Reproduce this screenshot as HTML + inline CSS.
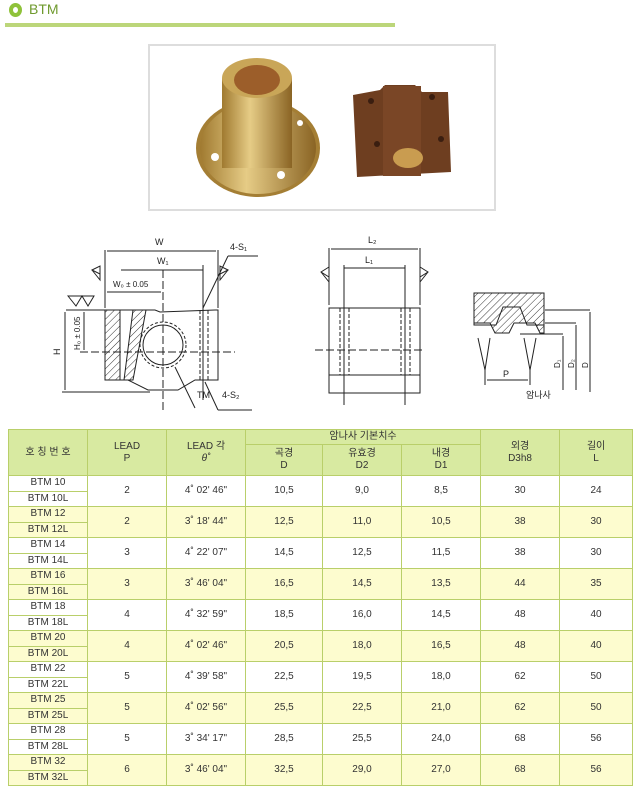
<!DOCTYPE html>
<html><head><meta charset="utf-8"><style>
body{margin:0;width:640px;height:791px;background:#fff;position:relative;overflow:hidden;font-family:"Liberation Sans","Noto Sans CJK KR",sans-serif}
.abs{position:absolute}
table{position:absolute;left:8px;top:429px;border-collapse:collapse;table-layout:fixed;width:624px}
td{border:1px solid #b9cf6a;text-align:center;font-size:10px;color:#333;padding:0;line-height:12px}
.h{background:#d8eaa1;}
.y{background:#fdfccf}
.w{background:#fff}
</style></head><body>
<div class="abs" style="left:9px;top:3px;width:13px;height:14px;border-radius:50%;border:4px solid #8fc23a;box-sizing:border-box"></div>
<div class="abs" style="left:29px;top:1px;font-size:14px;color:#6f9a2e">BTM</div>
<div class="abs" style="left:5px;top:23px;width:390px;height:4px;background:#bcd67a"></div>
<div class="abs" style="left:148px;top:44px;width:348px;height:167px;border:2px solid #ddd;box-sizing:border-box"></div>
<svg class="abs" style="left:0;top:0" width="640" height="420">
<defs><linearGradient id="br" x1="0" x2="1"><stop offset="0" stop-color="#a07a30"/><stop offset=".4" stop-color="#e6cc86"/><stop offset="1" stop-color="#8a6424"/></linearGradient>
<pattern id="ht" width="5" height="5" patternUnits="userSpaceOnUse" patternTransform="rotate(45)"><line x1="0" y1="0" x2="0" y2="5" stroke="#333" stroke-width="1"/></pattern></defs>
<ellipse cx="258" cy="148" rx="62" ry="49" fill="#a47e34"/>
<ellipse cx="258" cy="148" rx="58" ry="46" fill="url(#br)"/>
<rect x="222" y="78" width="70" height="90" fill="url(#br)"/>
<ellipse cx="257" cy="78" rx="35" ry="20" fill="#c9a658"/>
<ellipse cx="257" cy="80" rx="23" ry="15" fill="#9c5e2a"/>
<circle cx="215" cy="157" r="4" fill="#fff"/><circle cx="281" cy="175" r="4" fill="#fff"/><circle cx="300" cy="123" r="3" fill="#fff"/>
<polygon points="353,95 380,90 385,85 415,85 422,92 448,92 451,172 357,177" fill="#6e3e20"/>
<rect x="383" y="86" width="38" height="90" fill="#7a4626"/>
<circle cx="371" cy="101" r="3" fill="#3a1e10"/><circle cx="432" cy="97" r="3" fill="#3a1e10"/><circle cx="377" cy="144" r="3" fill="#3a1e10"/><circle cx="441" cy="139" r="3" fill="#3a1e10"/>
<ellipse cx="408" cy="158" rx="15" ry="10" fill="#c99c50"/>
<g stroke="#222" stroke-width="1" fill="none">
<polyline points="105,310 155,310 160,312 215,310 218,310 218,380 195,380 178,390 148,390 128,380 105,380 105,310" />
<rect x="105" y="310" width="15" height="70" fill="url(#ht)"/>
<polygon points="133,310 146,310 133,380 124,380" fill="url(#ht)"/>
<circle cx="163" cy="345" r="20"/><circle cx="163" cy="345" r="23" stroke-dasharray="3,2"/>
<line x1="80" y1="352" x2="235" y2="352" stroke-dasharray="8,3"/>
<line x1="163" y1="270" x2="163" y2="410" stroke-dasharray="8,3"/>
<line x1="105" y1="250" x2="105" y2="308"/><line x1="218" y1="250" x2="218" y2="308"/>
<line x1="107" y1="251" x2="216" y2="251"/>
<line x1="121" y1="270" x2="203" y2="270"/><line x1="203" y1="265" x2="203" y2="400"/>
<line x1="107" y1="292" x2="161" y2="292"/>
<line x1="66" y1="310" x2="105" y2="310"/><line x1="62" y1="392" x2="150" y2="392"/>
<line x1="65" y1="312" x2="65" y2="390"/><line x1="84" y1="312" x2="84" y2="350"/>
<line x1="200" y1="310" x2="200" y2="380" stroke-dasharray="4,2"/><line x1="208" y1="310" x2="208" y2="380" stroke-dasharray="4,2"/>
<line x1="203" y1="308" x2="228" y2="256"/><line x1="228" y1="256" x2="258" y2="256"/>
<line x1="205" y1="382" x2="218" y2="410"/><line x1="218" y1="410" x2="252" y2="410"/>
<line x1="175" y1="367" x2="195" y2="408"/>
<polygon points="92,270 100,266 100,274 92,270 100,280 100,274"/><polygon points="228,270 220,266 220,274 228,270 220,280 220,274"/>
<polygon points="68,296 76,306 82,296 88,306 94,296"/>
<rect x="329" y="308" width="91" height="85"/><line x1="329" y1="375" x2="420" y2="375"/>
<line x1="329" y1="248" x2="329" y2="305"/><line x1="420" y1="248" x2="420" y2="305"/>
<line x1="331" y1="249" x2="418" y2="249"/><line x1="344" y1="268" x2="405" y2="268"/>
<line x1="344" y1="265" x2="344" y2="405"/><line x1="405" y1="265" x2="405" y2="405"/>
<line x1="315" y1="350" x2="425" y2="350" stroke-dasharray="8,3"/>
<line x1="340" y1="308" x2="340" y2="375" stroke-dasharray="4,2"/><line x1="349" y1="308" x2="349" y2="375" stroke-dasharray="4,2"/>
<line x1="401" y1="308" x2="401" y2="375" stroke-dasharray="4,2"/><line x1="410" y1="308" x2="410" y2="375" stroke-dasharray="4,2"/>
<polygon points="321,272 329,267 329,277 321,272 329,282 329,277"/><polygon points="428,272 420,267 420,277 428,272 420,282 420,277"/>
<polygon points="474,293 544,293 544,333 540,333 535,323 514,323 509,333 495,333 490,323 474,323" fill="url(#ht)"/>
<polygon points="474,293 544,293 544,325 527,325 520,307 503,307 496,325 474,325"/>
<line x1="545" y1="310" x2="590" y2="310"/><line x1="545" y1="323" x2="576" y2="323"/><line x1="520" y1="334" x2="563" y2="334"/>
<line x1="590" y1="312" x2="590" y2="392"/><line x1="576" y1="325" x2="576" y2="390"/><line x1="563" y1="336" x2="563" y2="390"/>
<polyline points="478,338 485,370 490,338"/><polyline points="524,338 530,370 536,338"/>
<line x1="485" y1="370" x2="485" y2="385"/><line x1="530" y1="370" x2="530" y2="385"/><line x1="487" y1="380" x2="528" y2="380"/>
</g>
<g font-size="9" fill="#222" font-family="Liberation Sans,sans-serif">
<text x="155" y="245">W</text><text x="157" y="264">W₁</text><text x="113" y="287" font-size="8">W₀ ± 0.05</text>
<text x="230" y="250">4-S₁</text><text x="197" y="398">TM</text><text x="222" y="398">4-S₂</text>
<text x="60" y="355" transform="rotate(-90 60 355)">H</text><text x="80" y="350" font-size="8" transform="rotate(-90 80 350)">H₀ ± 0.05</text>
<text x="368" y="243">L₂</text><text x="365" y="263">L₁</text>
<text x="503" y="377">P</text>
<text x="560" y="368" font-size="8" transform="rotate(-90 560 368)">D₁</text><text x="574" y="368" font-size="8" transform="rotate(-90 574 368)">D₂</text><text x="588" y="368" font-size="8" transform="rotate(-90 588 368)">D</text>
<text x="526" y="398" font-family="Noto Sans CJK KR,sans-serif">암나사</text>
</g>
</svg>
<table>
<colgroup><col style="width:79px"><col style="width:79px"><col style="width:79px"><col style="width:77px"><col style="width:79px"><col style="width:79px"><col style="width:79px"><col style="width:73px"></colgroup>
<tr style="height:15px"><td class="h" rowspan="2">호 칭 번 호</td><td class="h" rowspan="2">LEAD<br>P</td><td class="h" rowspan="2">LEAD 각<br><i>θ˚</i></td><td class="h" colspan="3">암나사 기본치수</td><td class="h" rowspan="2">외경<br>D3h8</td><td class="h" rowspan="2">길이<br>L</td></tr>
<tr style="height:31px"><td class="h">곡경<br>D</td><td class="h">유효경<br>D2</td><td class="h">내경<br>D1</td></tr>
<tr style="height:15.5px"><td class="w">BTM 10</td><td class="w" rowspan="2">2</td><td class="w" rowspan="2">4˚ 02' 46"</td><td class="w" rowspan="2">10,5</td><td class="w" rowspan="2">9,0</td><td class="w" rowspan="2">8,5</td><td class="w" rowspan="2">30</td><td class="w" rowspan="2">24</td></tr><tr style="height:15.5px"><td class="w">BTM 10L</td></tr>
<tr style="height:15.5px"><td class="y">BTM 12</td><td class="y" rowspan="2">2</td><td class="y" rowspan="2">3˚ 18' 44"</td><td class="y" rowspan="2">12,5</td><td class="y" rowspan="2">11,0</td><td class="y" rowspan="2">10,5</td><td class="y" rowspan="2">38</td><td class="y" rowspan="2">30</td></tr><tr style="height:15.5px"><td class="y">BTM 12L</td></tr>
<tr style="height:15.5px"><td class="w">BTM 14</td><td class="w" rowspan="2">3</td><td class="w" rowspan="2">4˚ 22' 07"</td><td class="w" rowspan="2">14,5</td><td class="w" rowspan="2">12,5</td><td class="w" rowspan="2">11,5</td><td class="w" rowspan="2">38</td><td class="w" rowspan="2">30</td></tr><tr style="height:15.5px"><td class="w">BTM 14L</td></tr>
<tr style="height:15.5px"><td class="y">BTM 16</td><td class="y" rowspan="2">3</td><td class="y" rowspan="2">3˚ 46' 04"</td><td class="y" rowspan="2">16,5</td><td class="y" rowspan="2">14,5</td><td class="y" rowspan="2">13,5</td><td class="y" rowspan="2">44</td><td class="y" rowspan="2">35</td></tr><tr style="height:15.5px"><td class="y">BTM 16L</td></tr>
<tr style="height:15.5px"><td class="w">BTM 18</td><td class="w" rowspan="2">4</td><td class="w" rowspan="2">4˚ 32' 59"</td><td class="w" rowspan="2">18,5</td><td class="w" rowspan="2">16,0</td><td class="w" rowspan="2">14,5</td><td class="w" rowspan="2">48</td><td class="w" rowspan="2">40</td></tr><tr style="height:15.5px"><td class="w">BTM 18L</td></tr>
<tr style="height:15.5px"><td class="y">BTM 20</td><td class="y" rowspan="2">4</td><td class="y" rowspan="2">4˚ 02' 46"</td><td class="y" rowspan="2">20,5</td><td class="y" rowspan="2">18,0</td><td class="y" rowspan="2">16,5</td><td class="y" rowspan="2">48</td><td class="y" rowspan="2">40</td></tr><tr style="height:15.5px"><td class="y">BTM 20L</td></tr>
<tr style="height:15.5px"><td class="w">BTM 22</td><td class="w" rowspan="2">5</td><td class="w" rowspan="2">4˚ 39' 58"</td><td class="w" rowspan="2">22,5</td><td class="w" rowspan="2">19,5</td><td class="w" rowspan="2">18,0</td><td class="w" rowspan="2">62</td><td class="w" rowspan="2">50</td></tr><tr style="height:15.5px"><td class="w">BTM 22L</td></tr>
<tr style="height:15.5px"><td class="y">BTM 25</td><td class="y" rowspan="2">5</td><td class="y" rowspan="2">4˚ 02' 56"</td><td class="y" rowspan="2">25,5</td><td class="y" rowspan="2">22,5</td><td class="y" rowspan="2">21,0</td><td class="y" rowspan="2">62</td><td class="y" rowspan="2">50</td></tr><tr style="height:15.5px"><td class="y">BTM 25L</td></tr>
<tr style="height:15.5px"><td class="w">BTM 28</td><td class="w" rowspan="2">5</td><td class="w" rowspan="2">3˚ 34' 17"</td><td class="w" rowspan="2">28,5</td><td class="w" rowspan="2">25,5</td><td class="w" rowspan="2">24,0</td><td class="w" rowspan="2">68</td><td class="w" rowspan="2">56</td></tr><tr style="height:15.5px"><td class="w">BTM 28L</td></tr>
<tr style="height:15.5px"><td class="y">BTM 32</td><td class="y" rowspan="2">6</td><td class="y" rowspan="2">3˚ 46' 04"</td><td class="y" rowspan="2">32,5</td><td class="y" rowspan="2">29,0</td><td class="y" rowspan="2">27,0</td><td class="y" rowspan="2">68</td><td class="y" rowspan="2">56</td></tr><tr style="height:15.5px"><td class="y">BTM 32L</td></tr>
</table>
</body></html>
